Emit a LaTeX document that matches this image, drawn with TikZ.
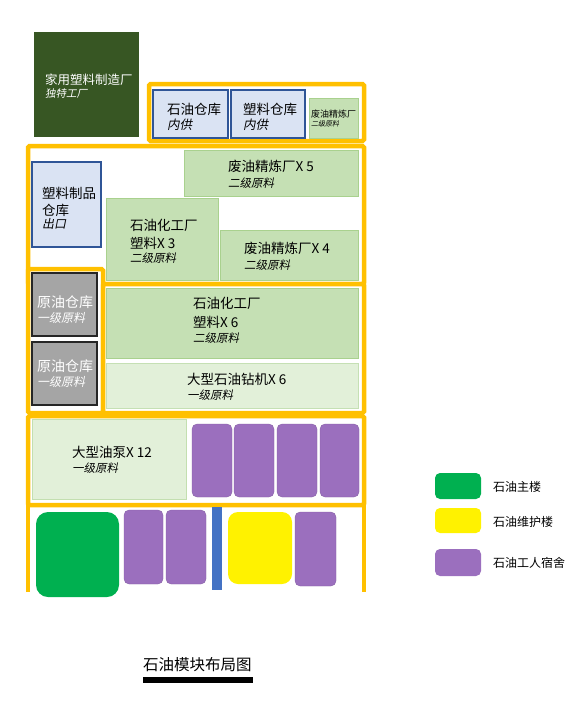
\documentclass[tikz,border=0pt]{standalone}
\usepackage{fontspec}
\setmainfont{Noto Sans CJK SC}
\newfontfamily\cjkit[FakeSlant=0.2]{Noto Sans CJK SC}
\definecolor{ogold}{HTML}{FFC000}
\definecolor{dkgreen}{HTML}{375623}
\definecolor{lblue}{HTML}{DAE3F3}
\definecolor{dblue}{HTML}{2F5597}
\definecolor{lgreen}{HTML}{C5E0B4}
\definecolor{mgreen}{HTML}{A9D18E}
\definecolor{pgreen}{HTML}{E2F0D9}
\definecolor{gbox}{HTML}{A5A5A5}
\definecolor{purp}{HTML}{9B6FBE}
\definecolor{mgreen2}{HTML}{00B050}
\definecolor{barblue}{HTML}{4472C4}
\tikzset{
  ob/.style={draw=ogold, line width=4.5pt, rounded corners=1.5pt},
  bluebox/.style={fill=lblue, draw=dblue, line width=1.5pt},
  grnbox/.style={fill=lgreen, draw=mgreen, line width=0.8pt},
  pgrnbox/.style={fill=pgreen, draw=lgreen, line width=0.8pt},
  graybox/.style={fill=gbox, draw=black!85, line width=2pt},
  purpbox/.style={fill=purp, draw=purp!85!black, line width=0.3pt, rounded corners=5pt},
  txt/.style={anchor=west, inner sep=0pt, font=\fontsize{13.5}{13.5}\selectfont},
  subt/.style={anchor=west, inner sep=0pt, font=\cjkit\fontsize{11.5}{11.5}\selectfont},
  smalltxt/.style={anchor=west, inner sep=0pt, font=\fontsize{9}{9}\selectfont},
  smallsub/.style={anchor=west, inner sep=0pt, font=\cjkit\fontsize{7}{7}\selectfont},
  legtxt/.style={anchor=west, inner sep=0pt, font=\fontsize{12}{12}\selectfont},
}
\begin{document}
\begin{tikzpicture}[x=1pt,y=-1pt]
\useasboundingbox (0,0) rectangle (580,701);
% dark green factory
\fill[dkgreen] (34,32) rectangle (139,137);
\node[txt, text=white, font=\fontsize{12.5}{12.5}\selectfont] (jy1) at (45,80) {家用塑料制造厂};
\node[subt, text=white, font=\cjkit\fontsize{10.5}{10.5}\selectfont] (jy2) at (45,94) {独特工厂};
% orange outlines
\draw[ob, fill=white] (149,84) rectangle (364,141);
\draw[ob, fill=white] (28,146) rectangle (364,284);
\draw[ob, fill=white] (28,269) rectangle (103,413);
\draw[ob, fill=white] (103,284) rectangle (364,413);
\draw[ob, fill=white] (28,416) rectangle (364,505);
\draw[ob, rounded corners=0pt] (28,592) -- (28,505) -- (364,505) -- (364,592);
% box A contents
\draw[bluebox] (153,90) rectangle (228,138);
\node[txt] (sy1) at (167,109) {石油仓库};
\node[subt, font=\cjkit\fontsize{12.5}{12.5}\selectfont] (sy2) at (167,125) {内供};
\draw[bluebox] (231,90) rectangle (305,138);
\node[txt] (sl1) at (243,109) {塑料仓库};
\node[subt, font=\cjkit\fontsize{12.5}{12.5}\selectfont] (sl2) at (243,125) {内供};
\draw[grnbox] (309,98) rectangle (358,138);
\node[smalltxt] (fy01) at (311,114) {废油精炼厂};
\node[smallsub] (fy02) at (311,124) {二级原料};
% box B contents
\draw[grnbox] (184,150) rectangle (358,196);
\node[txt] (fy51) at (228,166) {废油精炼厂X 5};
\node[subt] (fy52) at (228,183) {二级原料};
\draw[bluebox] (32,162) rectangle (101,247);
\node[txt] (sp1) at (42,193) {塑料制品};
\node[txt] (sp2) at (42,210) {仓库};
\node[subt, font=\cjkit\fontsize{12}{12}\selectfont] (sp3) at (42,224) {出口};
\draw[grnbox] (106,198) rectangle (218,280);
\node[txt] (sh31) at (130,225) {石油化工厂};
\node[txt] (sh32) at (130,243) {塑料X 3};
\node[subt] (sh33) at (130,258) {二级原料};
\draw[grnbox] (220,230) rectangle (358,280);
\node[txt] (fy41) at (244,248) {废油精炼厂X 4};
\node[subt] (fy42) at (244,265) {二级原料};
% left column
\draw[graybox] (32,273) rectangle (97,336);
\node[txt, text=white, font=\fontsize{14}{14}\selectfont] (yy11) at (37,302) {原油仓库};
\node[subt, text=white, font=\cjkit\fontsize{12}{12}\selectfont] (yy12) at (37,318) {一级原料};
\draw[graybox] (32,342) rectangle (97,405);
\node[txt, text=white, font=\fontsize{14}{14}\selectfont] (yy21) at (37,366) {原油仓库};
\node[subt, text=white, font=\cjkit\fontsize{12}{12}\selectfont] (yy22) at (37,382) {一级原料};
% box D contents
\draw[grnbox] (106,288) rectangle (358,358);
\node[txt] (sh61) at (193,303) {石油化工厂};
\node[txt] (sh62) at (193,322) {塑料X 6};
\node[subt] (sh63) at (193,338) {二级原料};
\draw[pgrnbox] (106,363) rectangle (358,408);
\node[txt] (zj1) at (187,379) {大型石油钻机X 6};
\node[subt] (zj2) at (187,395) {一级原料};
% box E contents
\draw[pgrnbox, draw=mgreen!70] (32,419) rectangle (186,499);
\node[txt] (yb1) at (72,452) {大型油泵X 12};
\node[subt] (yb2) at (72,468) {一级原料};
\draw[purpbox] (192,424) rectangle (232,497);
\draw[purpbox] (234,424) rectangle (274,497);
\draw[purpbox] (277,424) rectangle (317,497);
\draw[purpbox] (320,424) rectangle (359,497);
% bottom row
\fill[mgreen2, rounded corners=12pt] (36,512) rectangle (119,597);
\draw[purpbox] (124,510) rectangle (163,584);
\draw[purpbox] (166,510) rectangle (206,584);
\fill[barblue] (212,507) rectangle (222,590);
\fill[yellow, rounded corners=10pt] (228,512) rectangle (292,584);
\draw[purpbox] (295,512) rectangle (336,586);
% legend
\fill[mgreen2, rounded corners=5pt] (435,473) rectangle (481,499);
\node[legtxt] (lg1) at (493,487) {石油主楼};
\fill[yellow, rounded corners=5pt] (435,508) rectangle (481,533);
\node[legtxt] (lg2) at (493,522) {石油维护楼};
\fill[purp, rounded corners=5pt] (435,549) rectangle (481,576);
\node[legtxt] (lg3) at (493,563) {石油工人宿舍};
% title
\node[anchor=west, inner sep=0pt, font=\fontsize{15.5}{15.5}\selectfont] (title) at (143,665) {石油模块布局图};
\fill[black] (143,677) rectangle (253,683);
\end{tikzpicture}
\end{document}
